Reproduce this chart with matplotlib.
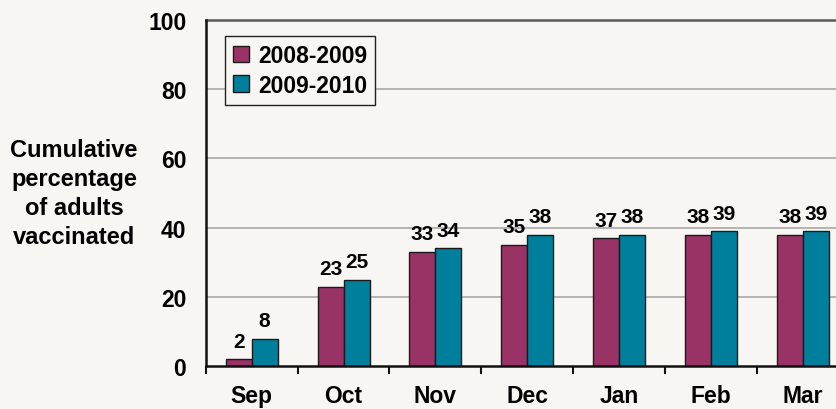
import matplotlib
matplotlib.use("Agg")
import matplotlib.pyplot as plt
import numpy as np

months = ["Sep", "Oct", "Nov", "Dec", "Jan", "Feb", "Mar"]
season_0809 = [2, 23, 33, 35, 37, 38, 38]
season_0910 = [8, 25, 34, 38, 38, 39, 39]
series_names = ["2008-2009", "2009-2010"]
yticks = [0, 20, 40, 60, 80, 100]

plt.rcParams['font.family'] = ['Liberation Sans', 'DejaVu Sans']
plt.rcParams['font.weight'] = 'bold'

bg = "#F7F6F2"
c1 = "#993366"
c2 = "#007F9C"

fig = plt.figure(figsize=(8.37, 4.10), dpi=100, facecolor=bg)
W, H = 837, 410
left, right, top, bottom = 205.7, 849.0, 20.7, 367.3
ax = fig.add_axes([left / W, 1 - bottom / H, (right - left) / W, (bottom - top) / H])
ax.set_facecolor(bg)

x = np.arange(len(months))
bw = 0.283
b1 = ax.bar(x - bw / 2, season_0809, bw, color=c1, edgecolor="#1a1a1a", linewidth=1.0,
            label=series_names[0], zorder=3)
b2 = ax.bar(x + bw / 2, season_0910, bw, color=c2, edgecolor="#1a1a1a", linewidth=1.0,
            label=series_names[1], zorder=3)

for bars, vals in ((b1, season_0809), (b2, season_0910)):
    for rect, v in zip(bars, vals):
        ax.annotate(str(v), (rect.get_x() + rect.get_width() / 2, v),
                    xytext=(0, 9), textcoords="offset points",
                    ha="center", va="baseline", fontsize=15, fontweight="bold",
                    zorder=5)

ax.set_xlim(-0.5, len(months) - 0.5)
ax.set_ylim(0, 100)
ax.set_yticks(yticks)
ax.set_yticklabels([str(t) for t in yticks], fontsize=16.5, fontweight="bold")
ax.tick_params(axis="y", length=0, pad=14)

ax.set_xticks(x)
ax.set_xticklabels(months, fontsize=16.5, fontweight="bold")
ax.set_xticks(np.arange(-0.5, len(months)), minor=True)
ax.tick_params(axis="x", which="major", length=0, pad=13)
ax.tick_params(axis="x", which="minor", length=6, width=1.5, direction="out", color="#111111")

for t in yticks[1:-1]:
    ax.axhline(t, color="#A8A8A8", linewidth=1.2, zorder=1)
ax.axhline(100, color="#5a5a5a", linewidth=1.8, zorder=1, clip_on=False)

for s in ("top", "right"):
    ax.spines[s].set_visible(False)
for s in ("left", "bottom"):
    ax.spines[s].set_linewidth(1.8)
    ax.spines[s].set_color("#111111")
    ax.spines[s].set_zorder(4)

leg = ax.legend(loc="upper left", bbox_to_anchor=(0.030, 0.954), borderaxespad=0,
                prop={"size": 16.5, "weight": "bold"}, frameon=True, fancybox=False,
                handlelength=0.7, handleheight=0.7, handletextpad=0.4,
                labelspacing=0.3, borderpad=0.35)
leg.get_frame().set_facecolor(bg)
leg.get_frame().set_edgecolor("#222222")
leg.get_frame().set_linewidth(1.0)
leg.get_frame().set_alpha(1)
leg.set_zorder(6)

fig.text(74 / W, 1 - 194 / H, "Cumulative\npercentage\nof adults\nvaccinated",
         ha="center", va="center", fontsize=17, fontweight="bold", linespacing=1.35)

fig.savefig("out.png", dpi=100, facecolor=bg)
